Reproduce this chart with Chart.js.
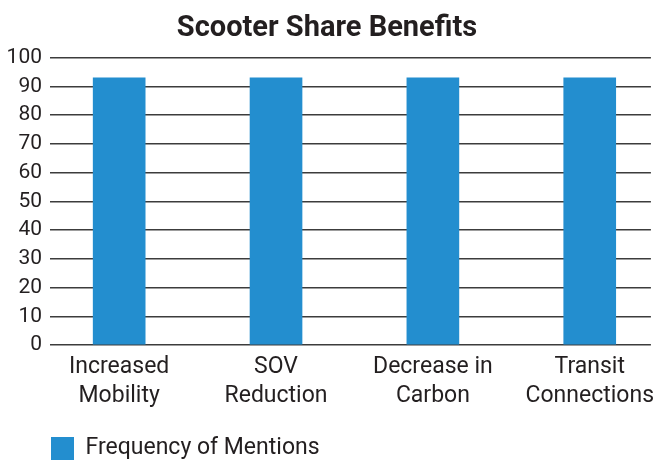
<!DOCTYPE html>
<html><head><meta charset="utf-8">
<script src="https://cdn.jsdelivr.net/npm/chart.js@4.4.1/dist/chart.umd.min.js"></script>
<style>html,body{margin:0;padding:0;background:#fff;overflow:hidden}#wrap{width:654px;height:460px}</style>
</head><body><div id="wrap"><canvas id="c" width="654" height="460"></canvas></div>
<script>
const categories = [["Increased","Mobility"],["SOV","Reduction"],["Decrease in","Carbon"],["Transit","Connections"]];
const mentions = [93, 93, 93, 93];
const yTicks = [0,10,20,30,40,50,60,70,80,90,100];
const seriesName = "Frequency of Mentions";
const titleText = "Scooter Share Benefits";

const FONT = "Roboto, 'Liberation Sans', sans-serif";
const TXT = '#231f20';
new Chart(document.getElementById('c'), {
  type: 'bar',
  data: {
    datasets: [{
      label: seriesName,
      data: mentions.map((v,i)=>({x:i,y:v})),
      backgroundColor: '#238ECF',
      borderWidth: 0,
      barThickness: 52
    }]
  },
  options: {
    responsive: false,
    animation: false,
    layout: {padding: {left: 0, right: 0, top: 0, bottom: -10}},
    plugins: {
      title: {display: true, text: titleText, color: TXT, font: {family: FONT, size: 29, weight: 'bold', lineHeight: 1.2}, padding: {top: 11, bottom: 12}},
      legend: {position: 'bottom', align: 'start', fullSize: false,
        labels: {color: TXT, font: {family: FONT, size: 23, lineHeight: 1}, boxWidth: 23, boxHeight: 23, padding: 1}},
      tooltip: {enabled: false}
    },
    scales: {
      x: {
        type: 'linear', min: -0.441, max: 3.39, offset: false,
        afterBuildTicks: s => { s.ticks = categories.map((c,i)=>({value:i})); },
        afterFit: s => { s.height = 91; },
        ticks: {callback: (v)=>categories[v], color: TXT, font: {family: FONT, size: 23, lineHeight: 1.25}, autoSkip: false, maxRotation: 0, padding: 0},
        grid: {display: false, offset: false},
        border: {display: false}
      },
      y: {
        min: 0, max: 100,
        afterBuildTicks: s => { s.ticks = yTicks.map(v=>({value:v})); },
        afterFit: s => { s.width = 50; },
        ticks: {color: TXT, font: {family: FONT, size: 21}, padding: 8, autoSkip: false},
        grid: {color: '#3c3c3c', lineWidth: 1.5, drawTicks: false},
        border: {display: false}
      }
    }
  }
});
</script></body></html>
